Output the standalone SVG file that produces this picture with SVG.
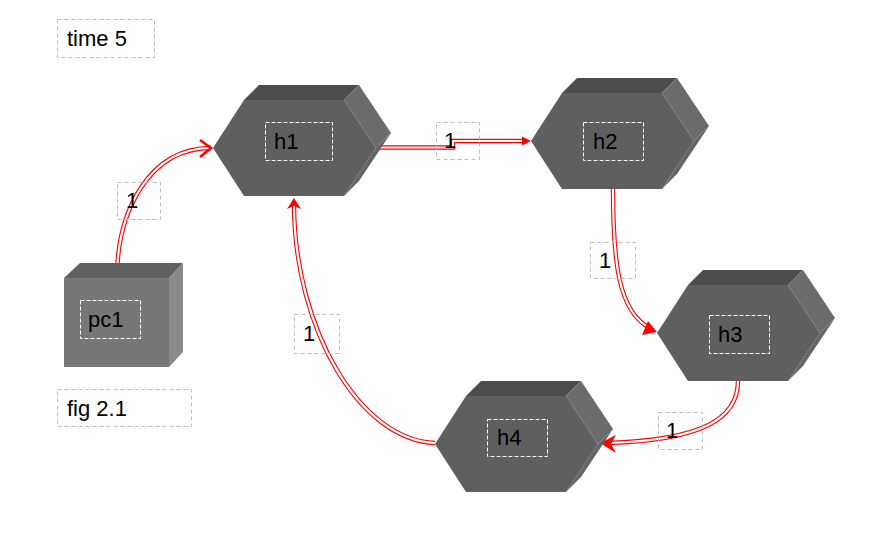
<svg xmlns="http://www.w3.org/2000/svg" width="893" height="545" viewBox="0 0 893 545">
<style>
text{font-family:"Liberation Sans",Arial,sans-serif;font-size:22px;fill:#000}
.front{fill:#5f5f5f}
.top{fill:#4d4d4d}
.sideu{fill:#6b6b6b}
.sidel{fill:#646464}
.lbl{fill:none;stroke:#fff;stroke-width:1;stroke-dasharray:4,2}
.cap{fill:none;stroke:#bdbdbd;stroke-width:1;stroke-dasharray:4,3}
.eo{fill:none;stroke:#ff0000;stroke-width:4.4}
.ei{fill:none;stroke:#fff;stroke-width:2.2}
.ah{fill:#ff0000}
</style>
<defs>
<g id="hex">
<polygon class="front" points="0,48 31,0 131,0 163,48 131,96 31,96"/>
<polygon class="top" points="31,0 46,-15 146,-15 131,0"/>
<polygon class="sideu" points="131,0 146,-15 178,33 163,48"/>
<polygon class="sidel" points="163,48 178,33 146,81 131,96"/>
</g>
</defs>
<rect width="893" height="545" fill="#fff"/>
<g id="time">
<rect class="cap" x="57.5" y="19.5" width="97" height="38"/>
<text x="67" y="46">time 5</text>
</g>
<g id="fig">
<rect class="cap" x="57.5" y="389.5" width="134" height="37"/>
<text x="67" y="416">fig 2.1</text>
</g>
<g id="connectors">
<path class="eo" d="M117,278 C117,210 150,148 211,148"/>
<path class="ei" d="M117,278 C117,210 150,148 211,148"/>
<polyline points="200,140 211,148 200,157" fill="none" stroke="#ff0000" stroke-width="2.6"/>
<path class="eo" d="M376,147.5 H453 V141 H524"/>
<path class="ei" d="M376,147.5 H453 V141 H524"/>
<polygon class="ah" points="531,141 522,136.5 522,145.5"/>
<path class="eo" d="M613,189 C613,260 618,312 650,328"/>
<path class="ei" d="M613,189 C613,260 618,312 650,328"/>
<polygon class="ah" points="657,332 648,321 642,335"/>
<path class="eo" d="M738,381 C738,420 700,440 608,443"/>
<path class="ei" d="M738,381 C738,420 700,440 608,443"/>
<polygon class="ah" points="600,443 616,435 611,444 616,453"/>
<path class="eo" d="M435,443 C360,440 295,330 294,206"/>
<path class="ei" d="M435,443 C360,440 295,330 294,206"/>
<polygon class="ah" points="294,198 287,209 294,206 301,209"/>
</g>
<g id="elabels">
<rect class="cap" x="117.5" y="182.5" width="43" height="37"/>
<text x="126" y="208">1</text>
<rect class="cap" x="436.5" y="122.5" width="43" height="37"/>
<text x="444" y="148">1</text>
<rect class="cap" x="590.5" y="242.5" width="45" height="36"/>
<text x="599" y="268">1</text>
<rect class="cap" x="658.5" y="412.5" width="44" height="37"/>
<text x="666" y="438">1</text>
<rect class="cap" x="294.5" y="314.5" width="45" height="39"/>
<text x="303" y="341">1</text>
</g>
<g id="pc1">
<rect x="64" y="278" width="105" height="89" fill="#777"/>
<polygon points="64,278 80,263 183,263 169,278" fill="#606060"/>
<polygon points="169,278 183,263 183,352 169,367" fill="#8a8a8a"/>
<rect class="lbl" x="80.5" y="300.5" width="60" height="38"/>
<text x="88" y="327">pc1</text>
</g>
<g id="h1">
<use href="#hex" transform="translate(213,100)"/>
<rect class="lbl" x="265.5" y="122.5" width="67" height="38"/>
<text x="274" y="149">h1</text>
</g>
<g id="h2">
<use href="#hex" transform="translate(531,93)"/>
<rect class="lbl" x="583.5" y="122.5" width="60" height="38"/>
<text x="593" y="149">h2</text>
</g>
<g id="h3">
<use href="#hex" transform="translate(657,285)"/>
<rect class="lbl" x="709.5" y="315.5" width="60" height="38"/>
<text x="718" y="342">h3</text>
</g>
<g id="h4">
<use href="#hex" transform="translate(435,396)"/>
<rect class="lbl" x="487.5" y="419.5" width="60" height="37"/>
<text x="497" y="445">h4</text>
</g>
</svg>
